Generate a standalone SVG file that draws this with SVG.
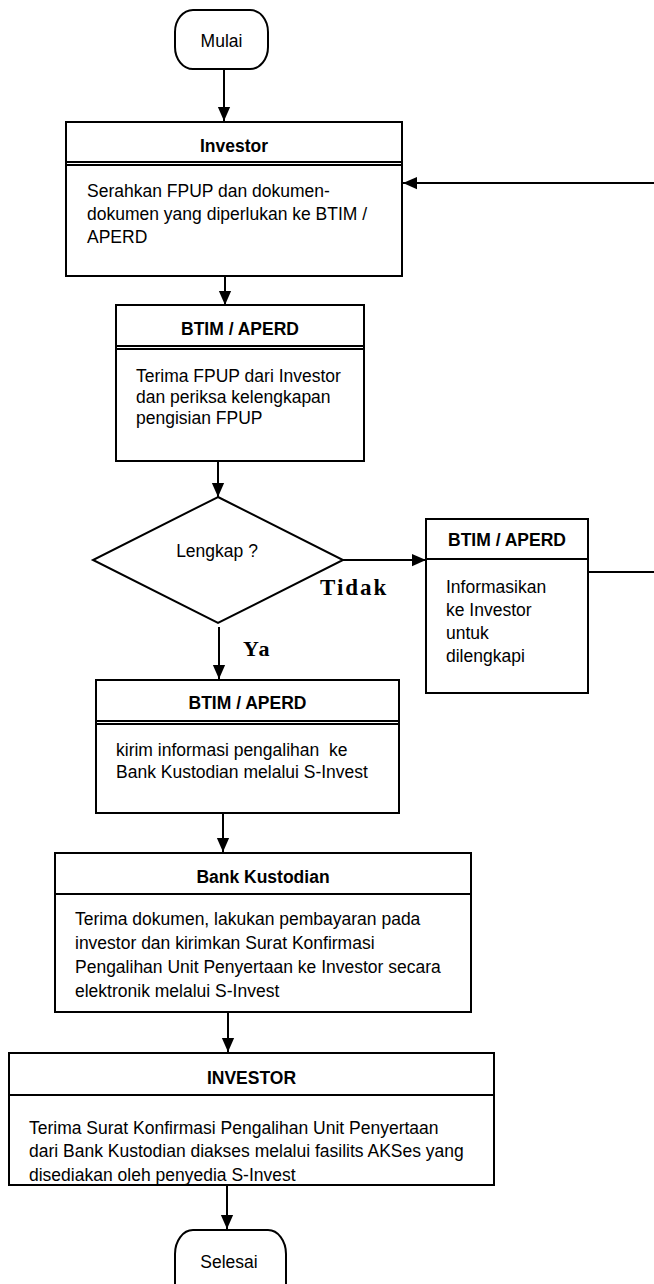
<svg xmlns="http://www.w3.org/2000/svg" width="654" height="1284" viewBox="0 0 654 1284">
<defs>
<style>
.box{fill:#fff;stroke:#000;stroke-width:2}
.ln{fill:none;stroke:#000;stroke-width:2}
.t{font-family:"Liberation Sans",Arial,sans-serif;font-size:17.5px;fill:#000}
.h{font-weight:bold;text-anchor:middle}
.c{text-anchor:middle}
.s{font-family:"Liberation Serif","Times New Roman",serif;font-weight:bold;font-size:23px;letter-spacing:2px;fill:#000}
</style>
<marker id="ah" markerUnits="userSpaceOnUse" markerWidth="14" markerHeight="16" viewBox="0 0 16 14" refX="16" refY="7" orient="auto">
<path d="M0,0 L16,7 L0,14 Z" fill="#000"/>
</marker>
<clipPath id="clipInv"><rect x="10" y="1096" width="483" height="88"/></clipPath>
</defs>

<g id="connectors">
<line class="ln" x1="224" y1="69" x2="224" y2="121" marker-end="url(#ah)"/>
<line class="ln" x1="654" y1="183" x2="403" y2="183" marker-end="url(#ah)"/>
<line class="ln" x1="225" y1="276" x2="225" y2="305" marker-end="url(#ah)"/>
<line class="ln" x1="218" y1="461" x2="218" y2="497" marker-end="url(#ah)"/>
<line class="ln" x1="343" y1="560" x2="426" y2="560" marker-end="url(#ah)"/>
<text class="s" x="320" y="595">Tidak</text>
<line class="ln" x1="588" y1="572" x2="654" y2="572"/>
<line class="ln" x1="219" y1="627" x2="219" y2="679" marker-end="url(#ah)"/>
<text class="s" x="243" y="656" style="font-size:22px">Ya</text>
<line class="ln" x1="223" y1="813" x2="223" y2="852" marker-end="url(#ah)"/>
<line class="ln" x1="228" y1="1012" x2="228" y2="1052" marker-end="url(#ah)"/>
<line class="ln" x1="227" y1="1185" x2="227" y2="1229" marker-end="url(#ah)"/>
</g>

<g id="mulai">
<rect class="box" x="175" y="10" width="93" height="59" rx="18" ry="22"/>
<text class="t c" x="221.5" y="47">Mulai</text>
</g>

<g id="investor1">
<rect class="box" x="66" y="122" width="336" height="154"/>
<line class="ln" x1="66" y1="162" x2="402" y2="162"/>
<line class="ln" x1="66" y1="165" x2="402" y2="165"/>
<text class="t h" x="234" y="152">Investor</text>
<text class="t" x="87" y="197">Serahkan FPUP dan dokumen-</text>
<text class="t" x="87" y="220">dokumen yang diperlukan ke BTIM /</text>
<text class="t" x="87" y="243">APERD</text>
</g>

<g id="btim1">
<rect class="box" x="116" y="305" width="248" height="156"/>
<line class="ln" x1="116" y1="346" x2="364" y2="346"/>
<line class="ln" x1="116" y1="349" x2="364" y2="349"/>
<text class="t h" x="240" y="335">BTIM / APERD</text>
<text class="t" x="136" y="382">Terima FPUP dari Investor</text>
<text class="t" x="136" y="403">dan periksa kelengkapan</text>
<text class="t" x="136" y="424">pengisian FPUP</text>
</g>

<g id="lengkap">
<polygon class="box" points="218,497 343,560 218,623 93,560"/>
<text class="t c" x="217" y="557">Lengkap ?</text>
</g>

<g id="btim2">
<rect class="box" x="426" y="519" width="162" height="174"/>
<line class="ln" x1="426" y1="559" x2="588" y2="559"/>
<text class="t h" x="507" y="546">BTIM / APERD</text>
<text class="t" x="446" y="593">Informasikan</text>
<text class="t" x="446" y="616">ke Investor</text>
<text class="t" x="446" y="639">untuk</text>
<text class="t" x="446" y="662">dilengkapi</text>
</g>

<g id="btim3">
<rect class="box" x="96" y="680" width="303" height="133"/>
<line class="ln" x1="96" y1="721" x2="399" y2="721"/>
<line class="ln" x1="96" y1="724" x2="399" y2="724"/>
<text class="t h" x="247.5" y="709">BTIM / APERD</text>
<text class="t" x="116" y="756" xml:space="preserve">kirim informasi pengalihan  ke</text>
<text class="t" x="116" y="778">Bank Kustodian melalui S-Invest</text>
</g>

<g id="bank">
<rect class="box" x="55" y="853" width="416" height="159"/>
<line class="ln" x1="55" y1="894" x2="471" y2="894"/>
<text class="t h" x="263" y="883">Bank Kustodian</text>
<text class="t" x="75" y="925">Terima dokumen, lakukan pembayaran pada</text>
<text class="t" x="75" y="949">investor dan kirimkan Surat Konfirmasi</text>
<text class="t" x="75" y="973">Pengalihan Unit Penyertaan ke Investor secara</text>
<text class="t" x="75" y="997">elektronik melalui S-Invest</text>
</g>

<g id="investor2">
<rect class="box" x="9" y="1053" width="485" height="132"/>
<line class="ln" x1="9" y1="1095" x2="494" y2="1095"/>
<text class="t h" x="251.5" y="1084">INVESTOR</text>
<text class="t" x="29" y="1134">Terima Surat Konfirmasi Pengalihan Unit Penyertaan</text>
<text class="t" x="29" y="1157">dari Bank Kustodian diakses melalui fasilits AKSes yang</text>
<text class="t" x="29" y="1181" clip-path="url(#clipInv)">disediakan oleh penyedia S-Invest</text>
</g>

<g id="selesai">
<rect class="box" x="175" y="1230" width="111" height="80" rx="18" ry="24"/>
<text class="t c" x="229" y="1268">Selesai</text>
</g>
</svg>
